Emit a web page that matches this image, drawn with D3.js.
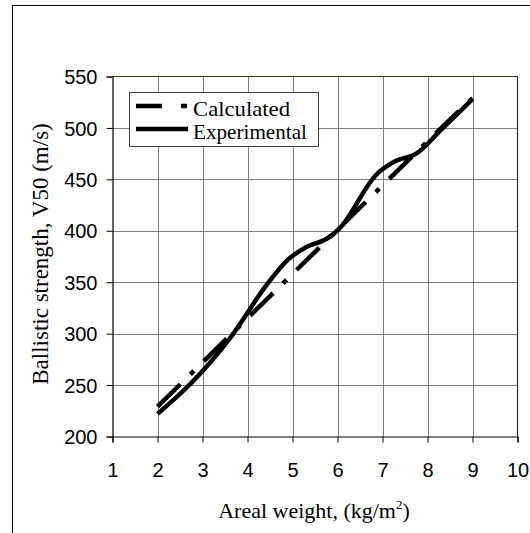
<!DOCTYPE html>
<html>
<head>
<meta charset="utf-8" />
<title>Ballistic strength vs areal weight</title>
<script src="https://cdn.jsdelivr.net/npm/d3@7/dist/d3.min.js"></script>
<style>
    html, body { margin: 0; padding: 0; background: #fff; }
    svg { display: block; }
</style>
</head>
<body>
<script>
// data
var calcX = [2, 3, 4, 5, 6, 7, 8, 9];
var calcY = [229, 272, 315, 358, 401, 444, 487, 529];
var expX = [2, 2.75, 3.6, 4.4, 4.9, 5.3, 5.75, 6.1, 6.85, 7.3, 7.75, 8.3, 9];
var expY = [222, 252, 295, 346, 372, 384, 392, 405, 454, 468, 475, 498, 528];
var xTicks = [1, 2, 3, 4, 5, 6, 7, 8, 9, 10];
var yTicks = [200, 250, 300, 350, 400, 450, 500, 550];
var seriesNames = ['Calculated', 'Experimental'];

var width = 530, height = 533;
var svg = d3.select('body').append('svg').attr('width', width).attr('height', height);

// outer chart border (cut off on right and bottom)
svg.append('rect').attr('x', 12.5).attr('y', 5.5).attr('width', 540).attr('height', 560)
    .attr('fill', 'none').attr('stroke', '#000').attr('stroke-width', 1);

var x = d3.scaleLinear().domain([1, 10]).range([112.5, 517.5]);
var y = d3.scaleLinear().domain([200, 550]).range([436.5, 76.5]);

// grid
var grid = svg.append('g');
grid.selectAll('.vg').data(xTicks.slice(1, -1)).enter().append('line')
    .attr('x1', d => Math.round(x(d)) + 0.5).attr('x2', d => Math.round(x(d)) + 0.5)
    .attr('y1', y(550)).attr('y2', y(200))
    .attr('stroke', '#808080').attr('stroke-width', 1);
grid.selectAll('.hg').data(yTicks.slice(1, -1)).enter().append('line')
    .attr('x1', x(1)).attr('x2', x(10))
    .attr('y1', d => Math.round(y(d)) + 0.5).attr('y2', d => Math.round(y(d)) + 0.5)
    .attr('stroke', '#808080').attr('stroke-width', 1);
// top / right frame of plot area
grid.append('path')
    .attr('d', 'M' + x(1) + ',' + y(550) + 'H' + x(10) + 'V' + y(200))
    .attr('fill', 'none').attr('stroke', '#333318').attr('stroke-width', 1.2);

// axes
var xAxis = d3.axisBottom(x).tickValues(xTicks).tickSize(6).tickPadding(20).tickFormat(d3.format('d'));
var yAxis = d3.axisLeft(y).tickValues(yTicks).tickSize(6).tickPadding(9).tickFormat(d3.format('d'));
var gx = svg.append('g').attr('transform', 'translate(0,' + y(200) + ')').call(xAxis);
var gy = svg.append('g').attr('transform', 'translate(' + x(1) + ',0)').call(yAxis);
[gx, gy].forEach(function (g) {
    g.selectAll('path').attr('stroke', '#000').attr('stroke-width', 1.2);
    g.selectAll('line').attr('stroke', '#000');
    g.selectAll('text').attr('fill', '#000').style('font-family', 'Liberation Sans, Arial, sans-serif').style('font-size', '20px');
});
gy.selectAll('text').attr('dy', '0.36em');

// lines
var lineGen = d3.line().x(d => x(d[0])).y(d => y(d[1]));
var calcPts = d3.zip(calcX, calcY);
var expPts = d3.zip(expX, expY);

svg.append('path').datum(calcPts)
    .attr('d', lineGen)
    .attr('fill', 'none').attr('stroke', '#000').attr('stroke-width', 4.5)
    .attr('stroke-dasharray', '32,14,5,14');

svg.append('path').datum(expPts)
    .attr('d', lineGen.curve(d3.curveCatmullRom.alpha(0.5)))
    .attr('fill', 'none').attr('stroke', '#000').attr('stroke-width', 4.5)
    .attr('stroke-linejoin', 'round');

// legend
var lg = svg.append('g');
lg.append('rect').attr('x', 129.5).attr('y', 92.5).attr('width', 189).attr('height', 54)
    .attr('fill', '#fff').attr('stroke', '#404040').attr('stroke-width', 1);
lg.append('line').attr('x1', 136).attr('x2', 188).attr('y1', 106).attr('y2', 106)
    .attr('stroke', '#000').attr('stroke-width', 4.5).attr('stroke-dasharray', '26,19,6,19');
lg.append('line').attr('x1', 136).attr('x2', 188).attr('y1', 129).attr('y2', 129)
    .attr('stroke', '#000').attr('stroke-width', 4.5);
lg.selectAll('.lt').data(seriesNames).enter().append('text')
    .attr('x', 193).attr('y', (d, i) => 116 + i * 23)
    .style('font-family', 'Liberation Serif, Times New Roman, serif').style('font-size', '21px')
    .attr('textLength', (d, i) => i ? 114 : 97).attr('lengthAdjust', 'spacingAndGlyphs')
    .text(d => d);

// axis titles
var xt = svg.append('text').attr('x', 314).attr('y', 518).attr('text-anchor', 'middle')
    .style('font-family', 'Liberation Serif, Times New Roman, serif').style('font-size', '22px');
xt.append('tspan').text('Areal weight, (kg/m');
xt.append('tspan').attr('dy', -9).style('font-size', '13px').text('2');
xt.append('tspan').attr('dy', 9).text(')');

svg.append('text').attr('transform', 'translate(48,254) rotate(-90)').attr('text-anchor', 'middle')
    .style('font-family', 'Liberation Serif, Times New Roman, serif').style('font-size', '23px')
    .text('Ballistic strength,  V50 (m/s)');
</script>
</body>
</html>
